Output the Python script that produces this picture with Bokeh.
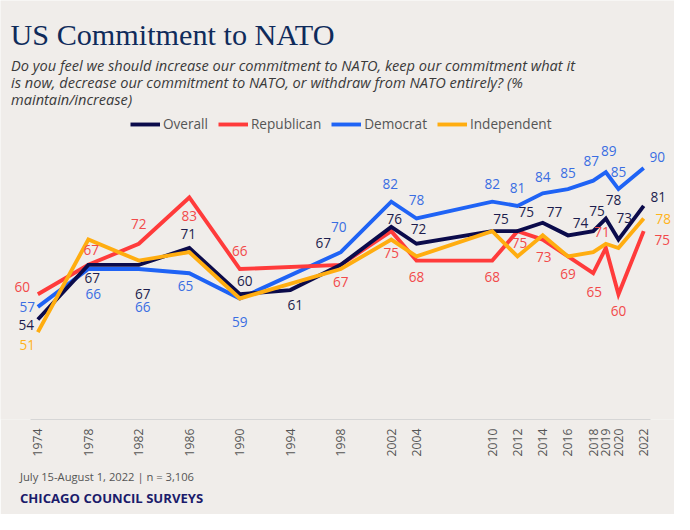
from math import pi
from bokeh.plotting import figure
from bokeh.models import (ColumnDataSource, Label, Legend, LegendItem, FixedTicker, Range1d, Title)
from bokeh.core.properties import value
from bokeh.embed import file_html
from bokeh.resources import INLINE

# ---------------- data ----------------
years = [1974, 1978, 1982, 1986, 1990, 1994, 1998, 2002, 2004, 2010, 2012, 2014, 2016, 2018, 2019, 2020, 2022]
overall = [54, 67, 67, 71, 60, 61, 67, 76, 72, 75, 75, 77, 74, 75, 78, 73, 81]
republican = [60, 67, 72, 83, 66, None, 67, 75, 68, 68, 75, 73, 69, 65, 71, 60, 75]
democrat = [57, 66, 66, 65, 59, None, 70, 82, 78, 82, 81, 84, 85, 87, 89, 85, 90]
independent = [51, 73, 68, 70, 59, None, 66, 73, 69, 75, 69, 74, 69, 70, 72, 71, 78]
tick_labels = [str(y) for y in years]

series_names = ["Overall", "Republican", "Democrat", "Independent"]

title_text = "US Commitment to NATO"
subtitle_lines = [
    "Do you feel we should increase our commitment to NATO, keep our commitment what it",
    "is now, decrease our commitment to NATO, or withdraw from NATO entirely? (%",
    "maintain/increase)",
]
footer_note = "July 15-August 1, 2022 | n = 3,106"
footer_org = "CHICAGO COUNCIL SURVEYS"

# ---------------- style ----------------
W, H = 674, 514
S = 0.973  # overall scale relative to the 690x530 design
BG = "#f0edea"
line_colors = {"Overall": "#0b0b4b", "Republican": "#ff3b3b", "Democrat": "#1f63f5", "Independent": "#ffad10"}
label_colors = {"Overall": "#1d1d4d", "Republican": "#f24a4a", "Democrat": "#3a6ee2", "Independent": "#ffb31a"}
FONT = "Open Sans"

def px(v):
    return f"{v * S:.1f}px"

# label offsets in screen px (dx right, dy down) per series/year
label_offsets = {
    "Overall": {1974: (-12, 6), 1978: (4, 14), 1982: (4, 30), 1986: (-1, -14), 1990: (5, -14),
                1994: (5, 15), 1998: (-18, -22), 2002: (3, -8), 2004: (2, -15), 2010: (9, -13),
                2012: (9, -20), 2014: (12, -11), 2016: (13, -13), 2018: (4, -21), 2019: (8, -19),
                2020: (6, -22), 2022: (15, -9)},
    "Republican": {1974: (-16, -8), 1978: (3, -15), 1982: (0, -20), 1986: (0, 19), 1990: (0, -19),
                   1998: (0, 18), 2002: (0, 22), 2004: (0, 17), 2010: (0, 17), 2012: (2, 12),
                   2014: (1, 18), 2016: (0, 18), 2018: (1, 19), 2019: (-4, -16), 2020: (0, 17),
                   2022: (19, 9)},
    "Democrat": {1974: (-11, 0), 1978: (5, 26), 1982: (4, 39), 1986: (-4, 13), 1990: (0, 24),
                 1998: (-2, -26), 2002: (-1, -18), 2004: (0, -19), 2010: (0, -18), 2012: (0, -18),
                 2014: (0, -17), 2016: (0, -17), 2018: (-2, -20), 2019: (3, -22), 2020: (0, -18),
                 2022: (14, -11)},
    "Independent": {1974: (-11, 13), 2022: (20, 0)},
}

values = {"Overall": overall, "Republican": republican, "Democrat": democrat, "Independent": independent}

FRAME_H = 419
# ---------------- figure ----------------
p = figure(width=W, height=H, output_backend="svg", toolbar_location=None,
           x_range=Range1d(1971.04, 2024.44), y_range=Range1d(30.25, 129.8),
           min_border_left=0, min_border_right=0, min_border_top=0, min_border_bottom=H - FRAME_H,
           background_fill_color=BG, border_fill_color=BG, outline_line_color=None)
p.grid.visible = False
p.yaxis.visible = False

xa = p.xaxis[0]
xa.ticker = FixedTicker(ticks=years)
xa.major_label_overrides = {y: t for y, t in zip(years, tick_labels)}
xa.major_label_orientation = pi / 2
xa.major_tick_line_color = None
xa.minor_tick_line_color = None
xa.major_tick_out = 0
xa.major_tick_in = 0
xa.major_label_standoff = 9
xa.axis_line_color = "#d6d6d6"
xa.axis_line_width = 1
xa.bounds = (years[0] - 0.56, years[-1] + 0.51)
xa.major_label_text_font = FONT
xa.major_label_text_font_size = px(12.5)
xa.major_label_text_color = "#555555"

legend_items = {}
draw_order = ["Democrat", "Republican", "Overall", "Independent"]
for name in draw_order:
    vals = values[name]
    xs = [y for y, v in zip(years, vals) if v is not None]
    ys = [v for v in vals if v is not None]
    r = p.line(xs, ys, line_color=line_colors[name], line_width=4 * S, line_join="miter")
    legend_items[name] = r

for name in draw_order:
    vals = values[name]
    offs = label_offsets[name]
    lx, ly, lt, dx, dy = [], [], [], [], []
    for y, v in zip(years, vals):
        if v is None or y not in offs:
            continue
        lx.append(y); ly.append(v); lt.append(str(v))
        dx.append(offs[y][0] * S); dy.append(offs[y][1] * S)
    src = ColumnDataSource(dict(x=lx, y=ly, t=lt, dx=dx, dy=dy))
    p.text(x="x", y="y", text="t", x_offset="dx", y_offset="dy", source=src,
           text_align="center", text_baseline="middle", text_color=label_colors[name],
           text_font=value(FONT), text_font_size=px(14))

legend = Legend(items=[LegendItem(label=n, renderers=[legend_items[n]]) for n in series_names],
                orientation="horizontal", location=(130, 286), glyph_width=30, glyph_height=14,
                label_standoff=3, spacing=10, padding=0, margin=0,
                background_fill_alpha=0, border_line_color=None,
                label_text_font=FONT, label_text_font_size=px(14), label_text_color="#555555")
p.add_layout(legend)

p.add_layout(Label(x=10, y=FRAME_H - 34, x_units="screen", y_units="screen", text=title_text,
                   text_font="Liberation Serif", text_font_size=px(31), text_color="#0f2b5b",
                   text_baseline="alphabetic"))
for i, line in enumerate(subtitle_lines):
    p.add_layout(Label(x=10.5, y=FRAME_H - 64.5 - 17 * i, x_units="screen", y_units="screen", text=line,
                       text_font=FONT, text_font_style="italic", text_font_size=px(15),
                       text_color="#3a3a3a", text_baseline="middle"))

p.add_layout(Title(text=footer_note, align="left", offset=19.5, standoff=14,
                   text_font=FONT, text_font_style="normal", text_font_size=px(11.5),
                   text_color="#555555"), "below")
p.add_layout(Title(text=footer_org, align="left", offset=19.5, standoff=-8,
                   text_font=FONT, text_font_style="bold", text_font_size=px(13.5),
                   text_color="#1b1b6b"), "below")

open("out.html", "w").write(file_html(p, INLINE))
